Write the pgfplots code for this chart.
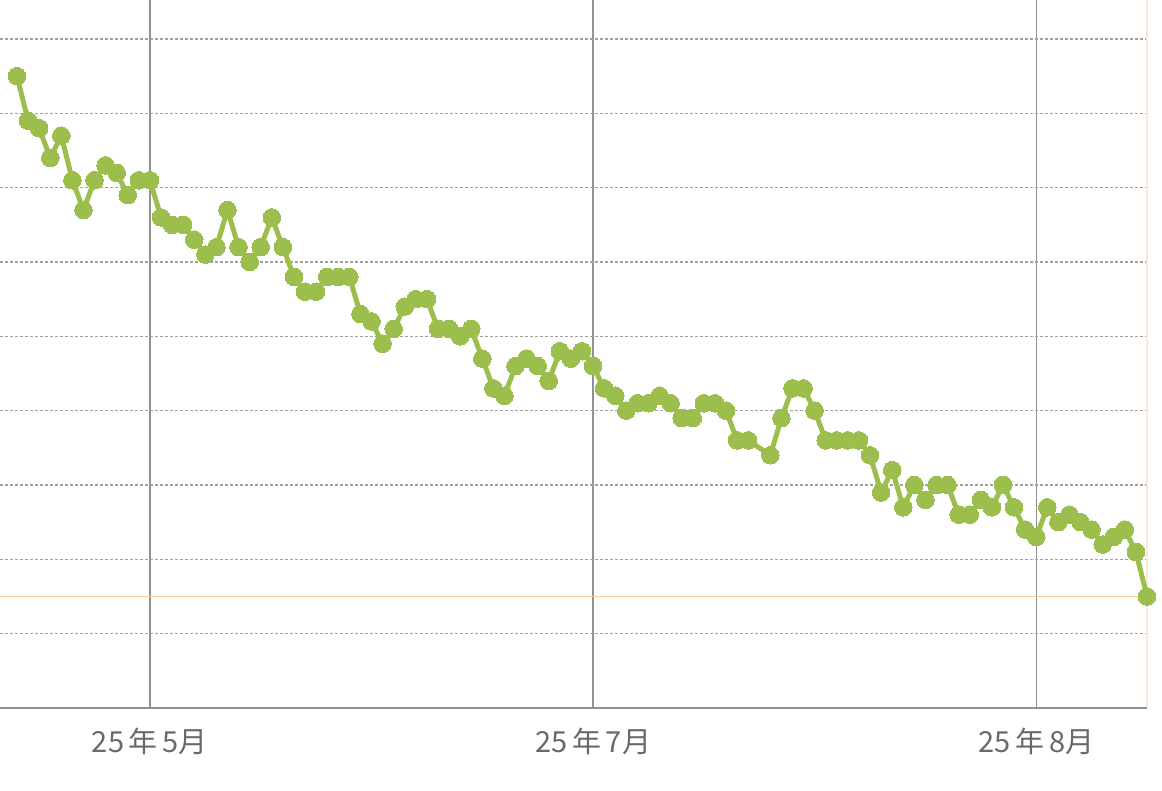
\documentclass[border=0pt]{standalone}
\usepackage{pgfplots}
\pgfplotsset{compat=1.18}
\usepackage{fontspec}
\newfontfamily\cjk{Noto Sans CJK SC}
\definecolor{lgreen}{RGB}{155,190,76}
\definecolor{gridgray}{RGB}{160,160,160}
\definecolor{vgray}{RGB}{145,145,145}
\definecolor{lorange}{RGB}{247,204,155}
\definecolor{lpeach}{RGB}{252,232,218}
\definecolor{tgray}{RGB}{105,105,105}
\begin{document}
\begin{tikzpicture}
\path[use as bounding box] (0,-41.5pt) rectangle (581pt,354pt);
\begin{axis}[
  scale only axis, width=573.5pt, height=354pt,
  xmin=-1.534, xmax=102, ymin=0, ymax=95.25,
  clip=false,
  axis line style={draw=none},
  xtick={12,52,92},
  xticklabels={{25\,年\,5月},{25\,年\,7月},{25\,年\,8月}},
  xticklabel style={font=\cjk\fontsize{14.5}{15}\selectfont, text=tgray, yshift=-6.5pt},
  ytick={10,20,...,90},
  yticklabels={},
  major tick length=0pt,
  xmajorgrids, ymajorgrids,
  x grid style={vgray, line width=0.7pt},
  y grid style={gridgray, line width=0.75pt, dash pattern=on 1.3pt off 1.2pt},
]
\addplot[lpeach, line width=0.6pt] coordinates {(102,0) (102,95.25)};
\addplot[vgray, line width=0.9pt] coordinates {(-1.534,0) (102,0)};
\addplot[lorange, line width=0.7pt] coordinates {(-1.534,15) (102,15)};
\addplot[lgreen, line width=2.5pt, mark=*, mark size=4.4pt, mark options={solid, fill=lgreen, draw=lgreen, line width=0pt}] table {
x y
0 85
1 79
2 78
3 74
4 77
5 71
6 67
7 71
8 73
9 72
10 69
11 71
12 71
13 66
14 65
15 65
16 63
17 61
18 62
19 67
20 62
21 60
22 62
23 66
24 62
25 58
26 56
27 56
28 58
29 58
30 58
31 53
32 52
33 49
34 51
35 54
36 55
37 55
38 51
39 51
40 50
41 51
42 47
43 43
44 42
45 46
46 47
47 46
48 44
49 48
50 47
51 48
52 46
53 43
54 42
55 40
56 41
57 41
58 42
59 41
60 39
61 39
62 41
63 41
64 40
65 36
66 36
68 34
69 39
70 43
71 43
72 40
73 36
74 36
75 36
76 36
77 34
78 29
79 32
80 27
81 30
82 28
83 30
84 30
85 26
86 26
87 28
88 27
89 30
90 27
91 24
92 23
93 27
94 25
95 26
96 25
97 24
98 22
99 23
100 24
101 21
102 15
};
\end{axis}
\end{tikzpicture}
\end{document}
